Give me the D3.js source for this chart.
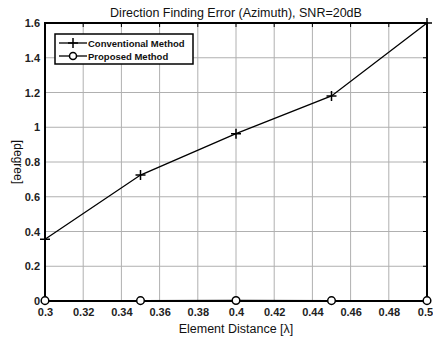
<!DOCTYPE html>
<html><head><meta charset="utf-8">
<script src="https://d3js.org/d3.v7.min.js"></script>
<style>body{margin:0;background:#fff}text{font-family:"Liberation Sans",Arial,sans-serif}</style>
</head><body><svg id="c" width="433" height="339"></svg>
<script>
const xValues = [0.3, 0.35, 0.4, 0.45, 0.5];
const conventional = [0.355, 0.725, 0.963, 1.18, 1.6];
const proposed = [0.002, 0.002, 0.003, 0.002, 0.002];
const xTicks = [0.3,0.32,0.34,0.36,0.38,0.4,0.42,0.44,0.46,0.48,0.5];
const yTicks = [0,0.2,0.4,0.6,0.8,1,1.2,1.4,1.6];
const seriesNames = ["Conventional Method","Proposed Method"];

const svg = d3.select("#c");
const L=45,R=427,T=23,B=301;
const x = d3.scaleLinear().domain([0.3,0.5]).range([L,R]);
const y = d3.scaleLinear().domain([0,1.6]).range([B,T]);

svg.append("rect").attr("x",0).attr("y",0).attr("width",433).attr("height",339).attr("fill","#fff");
// grid
svg.append("g").selectAll("line").data(xTicks).join("line")
  .attr("x1",d=>x(d)).attr("x2",d=>x(d)).attr("y1",T).attr("y2",B)
  .attr("stroke","#b0b0b0").attr("stroke-width",1);
svg.append("g").selectAll("line").data(yTicks).join("line")
  .attr("x1",L).attr("x2",R).attr("y1",d=>y(d)).attr("y2",d=>y(d))
  .attr("stroke","#b0b0b0").attr("stroke-width",1);

// axes
const fmt = d=>String(+d.toFixed(2));
const xa = svg.append("g").attr("transform",`translate(0,${B})`)
  .call(d3.axisBottom(x).tickValues(xTicks).tickFormat(fmt).tickSize(0).tickPadding(7));
const ya = svg.append("g").attr("transform",`translate(${L},0)`)
  .call(d3.axisLeft(y).tickValues(yTicks).tickFormat(fmt).tickSize(0).tickPadding(5));
[xa,ya].forEach(a=>{a.select(".domain").remove();a.selectAll("text").attr("font-size",11).attr("font-weight","bold").attr("fill","#222").attr("font-family","Liberation Sans, Arial, sans-serif");});
xa.selectAll("text").filter(d=>d===0.5).attr("dx",-2);
// top/right tick marks
svg.append("g").selectAll("line").data(xTicks).join("line")
  .attr("x1",d=>x(d)).attr("x2",d=>x(d)).attr("y1",T).attr("y2",T+4).attr("stroke","#000");
svg.append("g").selectAll("line").data(yTicks).join("line")
  .attr("x1",R-4).attr("x2",R).attr("y1",d=>y(d)).attr("y2",d=>y(d)).attr("stroke","#000");
svg.append("rect").attr("x",L).attr("y",T).attr("width",R-L).attr("height",B-T)
  .attr("fill","none").attr("stroke","#000").attr("stroke-width",2);

// lines
const line = d3.line().x((d,i)=>x(xValues[i])).y(d=>y(d));
svg.append("path").datum(conventional).attr("d",line).attr("fill","none").attr("stroke","#000").attr("stroke-width",1.3);
svg.append("path").datum(proposed).attr("d",line).attr("fill","none").attr("stroke","#000").attr("stroke-width",1.3);
// markers
svg.append("g").selectAll("path").data(conventional).join("path")
  .attr("d",(d,i)=>{const cx=x(xValues[i]),cy=y(d);return `M${cx-5},${cy}H${cx+5}M${cx},${cy-5}V${cy+5}`;})
  .attr("stroke","#000").attr("stroke-width",1.5);
svg.append("g").selectAll("circle").data(proposed).join("circle")
  .attr("cx",(d,i)=>x(xValues[i])).attr("cy",d=>y(d)).attr("r",3.8)
  .attr("fill","#fff").attr("stroke","#000").attr("stroke-width",1.5);

// legend
const lg = svg.append("g");
lg.append("rect").attr("x",55).attr("y",34).attr("width",138).attr("height",30).attr("fill","#fff").attr("stroke","#000").attr("stroke-width",1.5);
seriesNames.forEach((n,i)=>{
  const yy = 43 + i*13;
  lg.append("line").attr("x1",59).attr("x2",87).attr("y1",yy).attr("y2",yy).attr("stroke","#000").attr("stroke-width",1.3);
  if(i===0){lg.append("path").attr("d",`M68,${yy}H78M73,${yy-5}V${yy+5}`).attr("stroke","#000").attr("stroke-width",1.5);}
  else {lg.append("circle").attr("cx",73).attr("cy",yy).attr("r",3.5).attr("fill","#fff").attr("stroke","#000").attr("stroke-width",1.5);}
  lg.append("text").attr("x",88).attr("y",yy+3.5).attr("font-size",9.5).attr("font-weight","bold").attr("fill","#111").text(n);
});

// title and labels
svg.append("text").attr("x",236).attr("y",17).attr("text-anchor","middle").attr("font-size",12.5).attr("fill","#111").text("Direction Finding Error (Azimuth), SNR=20dB");
svg.append("text").attr("x",236).attr("y",333).attr("text-anchor","middle").attr("font-size",12.5).attr("fill","#111").text("Element Distance [λ]");
svg.append("text").attr("transform","translate(14,162) rotate(90)").attr("text-anchor","middle").attr("font-size",12).attr("fill","#111").text("[degree]");
</script></body></html>
